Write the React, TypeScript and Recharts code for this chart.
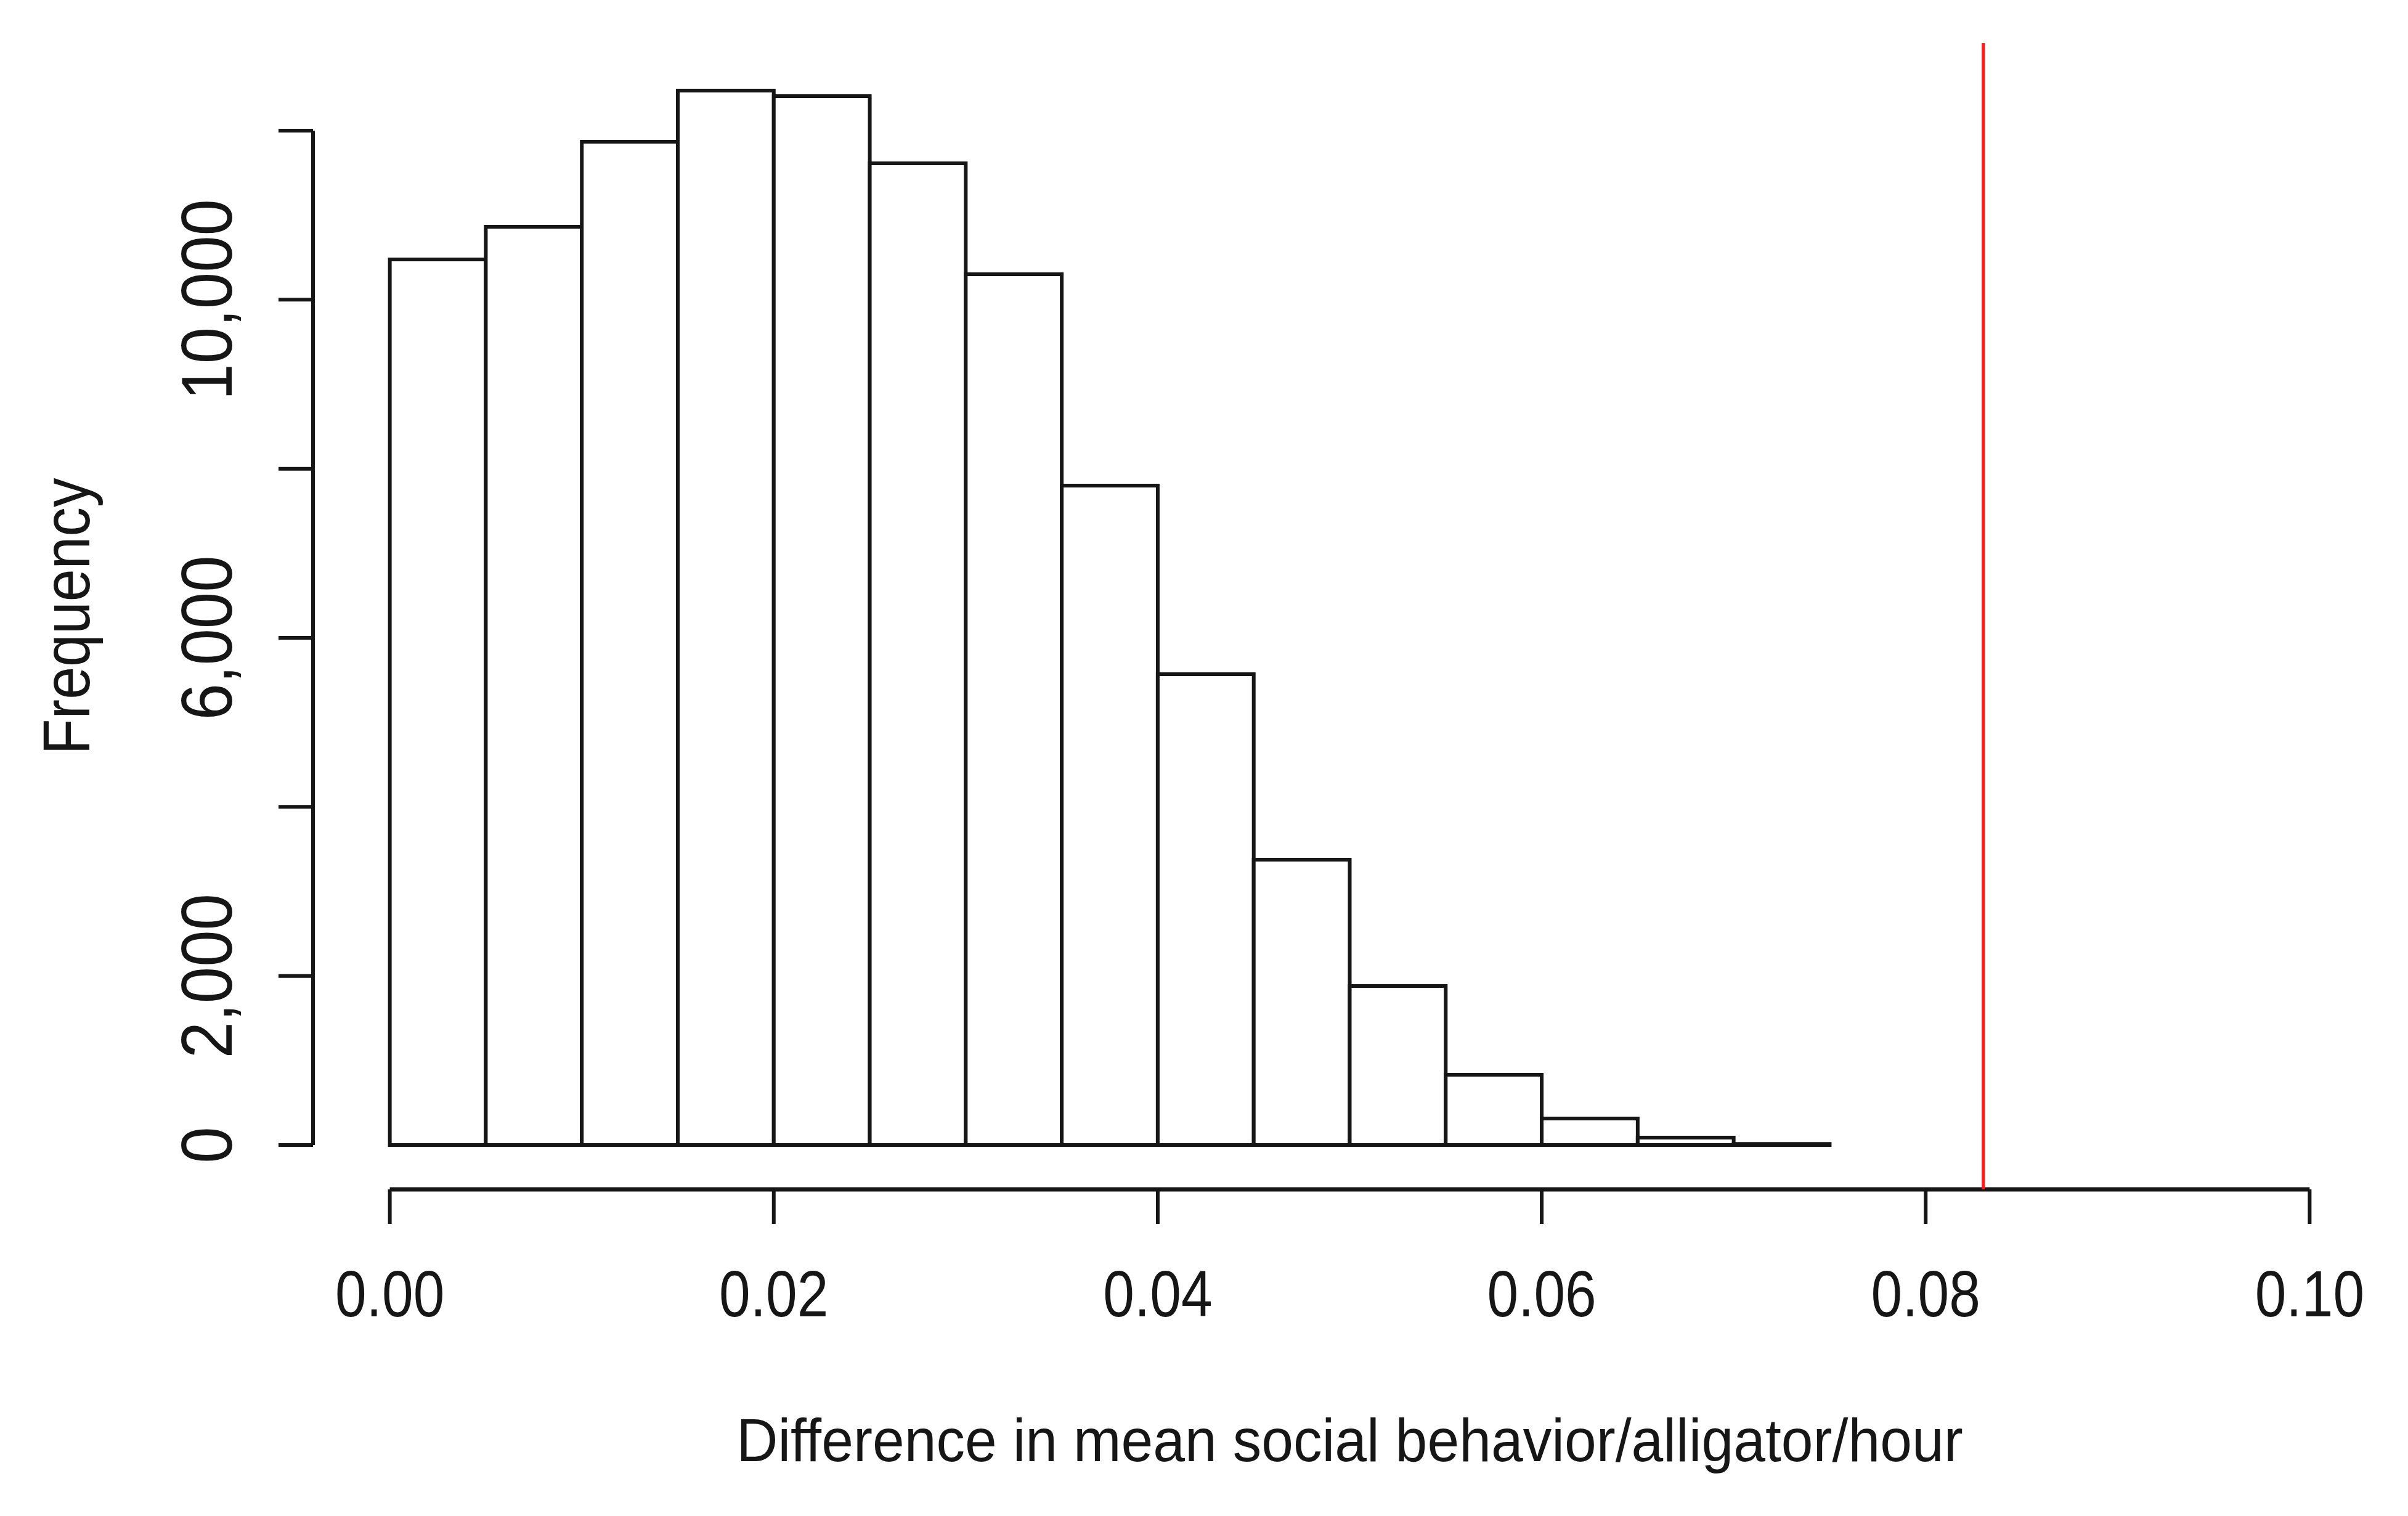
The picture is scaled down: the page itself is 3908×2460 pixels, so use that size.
import React from "react";
import { ComposedChart, XAxis, YAxis, ReferenceArea, ReferenceLine, Label } from "recharts";

if (typeof document !== "undefined") document.body.style.margin = "0";

// histogram bins (lower edge) and their counts
const binLows = [0, 0.005, 0.01, 0.015, 0.02, 0.025, 0.03, 0.035, 0.04, 0.045, 0.05, 0.055, 0.06, 0.065, 0.07];
const binWidth = 0.005;
const counts = [10476, 10863, 11869, 12474, 12408, 11614, 10301, 7801, 5570, 3375, 1881, 831, 313, 87, 12];

const xTicks = [0, 0.02, 0.04, 0.06, 0.08, 0.1];
const yTicks = [0, 2000, 4000, 6000, 8000, 10000, 12000];
const yLabelled = [0, 2000, 6000, 10000];
const observed = 0.083;

const xDomain = [-0.004, 0.104];
const yDomain = [-525, 13035];

const FONT = '"Liberation Sans", Arial, sans-serif';
const INK = "#161616";

const bins = binLows.map((lo, i) => ({ lo, hi: lo + binWidth, count: counts[i] }));

const XTick = ({ x, y, payload }: any) => (
  <text
    transform={`translate(${x},${y + 148}) scale(0.86,1)`}
    textAnchor="middle"
    fontSize={106}
    fontFamily={FONT}
    fill={INK}
  >
    {Number(payload.value).toFixed(2)}
  </text>
);

const YTick = ({ x, y, payload }: any) =>
  yLabelled.includes(payload.value) ? (
    <text
      transform={`translate(${x - 74},${y}) rotate(-90) scale(0.92,1)`}
      textAnchor="middle"
      fontSize={116}
      fontFamily={FONT}
      fill={INK}
    >
      {Number(payload.value).toLocaleString("en-US")}
    </text>
  ) : (
    <g />
  );

const XTitle = ({ viewBox }: any) => (
  <text
    transform={`translate(${viewBox.x + viewBox.width / 2},${viewBox.y + 441}) scale(0.95,1)`}
    textAnchor="middle"
    fontSize={98}
    fontFamily={FONT}
    fill={INK}
  >
    Difference in mean social behavior/alligator/hour
  </text>
);

const YTitle = ({ viewBox }: any) => (
  <text
    transform={`translate(${viewBox.x - 63},${viewBox.y + viewBox.height / 2}) rotate(-90) scale(0.88,1)`}
    textAnchor="middle"
    fontSize={108}
    fontFamily={FONT}
    fill={INK}
  >
    Frequency
  </text>
);

export default function App() {
  return (
    <div style={{ width: 3908, height: 2460, background: "#fff" }}>
      <ComposedChart
        width={3908}
        height={2460}
        data={bins}
        margin={{ top: 70, right: 35, bottom: 230, left: 208 }}
      >
        <XAxis
          type="number"
          dataKey="lo"
          domain={xDomain}
          allowDataOverflow
          ticks={xTicks}
          interval={0}
          height={300}
          axisLine={false}
          tickSize={56}
          tickLine={{ stroke: INK, strokeWidth: 6 }}
          tick={<XTick />}
        >
          <Label content={<XTitle />} />
        </XAxis>
        <YAxis
          type="number"
          domain={yDomain}
          allowDataOverflow
          ticks={yTicks}
          interval={0}
          width={300}
          axisLine={false}
          tickSize={56}
          tickLine={{ stroke: INK, strokeWidth: 6 }}
          tick={<YTick />}
        >
          <Label content={<YTitle />} />
        </YAxis>

        {bins.map((b) => (
          <ReferenceArea
            key={b.lo}
            x1={b.lo}
            x2={b.hi}
            y1={0}
            y2={b.count}
            fill="#fff"
            fillOpacity={1}
            stroke={INK}
            strokeWidth={6}
            ifOverflow="visible"
          />
        ))}

        {/* R-style detached axis lines */}
        <ReferenceLine
          segment={[{ x: xDomain[0], y: 0 }, { x: xDomain[0], y: 12000 }]}
          stroke={INK}
          strokeWidth={6}
          ifOverflow="visible"
        />
        <ReferenceLine
          segment={[{ x: 0, y: yDomain[0] }, { x: 0.1, y: yDomain[0] }]}
          stroke={INK}
          strokeWidth={7}
          ifOverflow="visible"
        />

        <ReferenceLine x={observed} stroke="#ff1a1a" strokeWidth={5} ifOverflow="visible" />
      </ComposedChart>
    </div>
  );
}
